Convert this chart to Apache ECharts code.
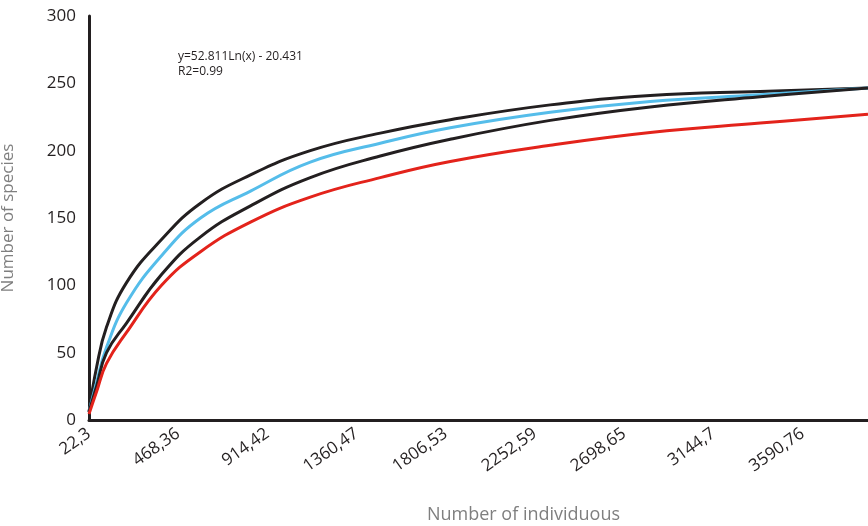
<!DOCTYPE html>
<html>
<head>
<meta charset="utf-8">
<script src="https://cdn.jsdelivr.net/npm/echarts@6/dist/echarts.min.js"></script>
<style>
  html, body { margin: 0; padding: 0; background: #fff; }
  #chart { width: 868px; height: 526px; }
</style>
</head>
<body>
<div id="chart"></div>
<script>
// x positions (number of individuals) where the curves were read
const individuals = [22.3, 60, 110, 210, 385, 580, 830, 1129, 1479, 1829, 2329, 2829, 3379, 3918];

const upperBound = [6, 39, 69, 102, 134, 161, 182, 200, 213, 223, 234, 241, 244, 246.5];
const observed   = [6, 28, 54, 87, 122, 150, 170, 191.5, 205.5, 217, 228.5, 236.5, 241.5, 246.5];
const lowerBound = [6, 25, 50, 72, 108, 136, 159, 180, 196, 208.5, 222.5, 232.5, 240, 246.5];
const estimated  = [4.5, 21, 42, 65, 100, 125, 147, 165.5, 180, 192, 204, 213.5, 220.5, 227];

const tickValues = [22.3, 468.36, 914.42, 1360.47, 1806.53, 2252.59, 2698.65, 3144.7, 3590.76];
const tickLabels = ['22,3', '468,36', '914,42', '1360,47', '1806,53', '2252,59', '2698,65', '3144,7', '3590,76'];

const ink = '#231f20';
const font = '"Open Sans", "DejaVu Sans", sans-serif';

function pairs(ys) {
  return individuals.map((x, i) => [x, ys[i]]);
}

function curve(name, ys, color) {
  return {
    name: name,
    type: 'line',
    data: pairs(ys),
    smooth: 0.45,
    showSymbol: false,
    lineStyle: { color: color, width: 3 },
    z: 3,
  };
}

const chart = echarts.init(document.getElementById('chart'), null, { renderer: 'canvas' });

chart.setOption({
  animation: false,
  backgroundColor: '#fff',
  grid: { left: 89, right: 0, top: 16, bottom: 106, outerBoundsMode: 'none', containLabel: false },
  xAxis: {
    type: 'value',
    min: 22.3,
    max: 3918,
    name: 'Number of individuous',
    nameLocation: 'middle',
    nameGap: 86,
    nameTextStyle: { color: '#7f7f7f', fontSize: 18, fontFamily: font, padding: [0, 0, 0, 90] },
    axisLine: { lineStyle: { color: ink, width: 3 } },
    axisTick: { show: false },
    splitLine: { show: false },
    axisLabel: {
      customValues: tickValues,
      rotate: 35,
      margin: 12,
      color: ink,
      fontSize: 17,
      fontFamily: font,
      formatter: (v) => {
        const i = tickValues.findIndex(t => Math.abs(t - v) < 0.01);
        return i >= 0 ? tickLabels[i] : '';
      },
    },
  },
  yAxis: {
    type: 'value',
    min: 0,
    max: 300,
    interval: 50,
    name: 'Number of species',
    nameLocation: 'middle',
    nameGap: 72,
    nameTextStyle: { color: '#7f7f7f', fontSize: 17, fontFamily: font },
    axisLine: { show: true, lineStyle: { color: ink, width: 3 } },
    axisTick: { show: false },
    splitLine: { show: false },
    axisLabel: { color: ink, fontSize: 17, fontFamily: font, margin: 13 },
  },
  graphic: [{
    type: 'text',
    left: 178,
    top: 49,
    style: {
      text: 'y=52.811Ln(x) - 20.431\nR2=0.99',
      fill: ink,
      font: '12px ' + font,
      lineHeight: 15,
    },
  }],
  series: [
    curve('Upper bound', upperBound, ink),
    curve('Observed', observed, '#55bdea'),
    curve('Lower bound', lowerBound, ink),
    curve('Estimated', estimated, '#e3231b'),
  ],
});
</script>
</body>
</html>
